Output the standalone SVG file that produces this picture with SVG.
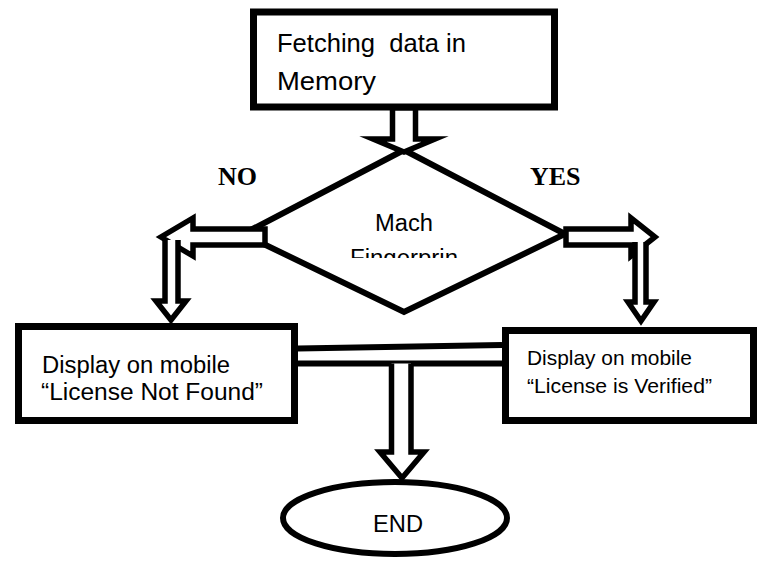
<svg xmlns="http://www.w3.org/2000/svg" width="758" height="561" viewBox="0 0 758 561">
<style>
.box{fill:#fff;stroke:#000;stroke-width:7}
.sh{fill:#fff;stroke:#000;stroke-width:6;stroke-linejoin:miter}
.ar{fill:#fff;stroke:#000;stroke-width:5.5;stroke-linejoin:miter;stroke-miterlimit:10}
.ln{fill:none;stroke:#000;stroke-width:6}
.t{font-family:"Liberation Sans",Arial,sans-serif;fill:#000}
.lab{font-family:"Liberation Serif","Times New Roman",serif;font-weight:bold;font-size:26px;fill:#000}
</style>
<defs>
<clipPath id="clipD"><rect x="300" y="200" width="210" height="58"/></clipPath>
</defs>
<rect width="758" height="561" fill="#fff"/>
<g id="start">
<rect class="box" x="253.5" y="12" width="301" height="95"/>
<text class="t" x="277" y="52" font-size="25.5" textLength="189" lengthAdjust="spacingAndGlyphs">Fetching&#160; data in</text>
<text class="t" x="277" y="90" font-size="25.5" textLength="99" lengthAdjust="spacingAndGlyphs">Memory</text>
</g>
<g id="decision">
<polygon class="sh" points="404,150 565,234 404,312 243,234"/>
<g clip-path="url(#clipD)">
<text class="t" x="375" y="231" font-size="23" textLength="58" lengthAdjust="spacingAndGlyphs">Mach</text>
<text class="t" x="350" y="266" font-size="23" textLength="108" lengthAdjust="spacingAndGlyphs">Fingerprin</text>
</g>
</g>
<g id="labels">
<text class="lab" x="218" y="185">NO</text>
<text class="lab" x="530" y="185">YES</text>
</g>
<g id="notfound">
<rect class="box" x="18.5" y="326.5" width="276" height="94"/>
<text class="t" x="42" y="373" font-size="23" textLength="188" lengthAdjust="spacingAndGlyphs">Display on mobile</text>
<text class="t" x="41" y="400" font-size="23" textLength="222" lengthAdjust="spacingAndGlyphs">“License Not Found”</text>
</g>
<g id="verified">
<rect class="box" x="505.5" y="330.5" width="248" height="90"/>
<text class="t" x="527" y="365" font-size="21" textLength="165" lengthAdjust="spacingAndGlyphs">Display on mobile</text>
<text class="t" x="527" y="393" font-size="21" textLength="185" lengthAdjust="spacingAndGlyphs">“License is Verified”</text>
</g>
<g id="end">
<ellipse cx="395" cy="518" rx="112" ry="36" fill="#fff" stroke="#000" stroke-width="6"/>
<text class="t" x="373" y="532" font-size="23.5" textLength="50" lengthAdjust="spacingAndGlyphs">END</text>
</g>
<g id="connectors">
<polygon class="ar" points="392.5,108 415.5,108 415.5,139 435,139 404,152 373,139 392.5,139"/>
<polygon class="ar" points="265,229 193,229 193,218 161,237 193,256 193,245 265,245"/>
<path class="ar" d="M165,240 V301 H156 L171,320 L186,301 H178 V240"/>
<polygon class="ar" points="566,229 631,229 631,218 655,237 631,256 631,245 566,245"/>
<path class="ar" d="M635,242 V302 H628 L641,321 L654,302 H646 V242"/>
<line class="ln" x1="298" y1="348.5" x2="502" y2="345"/>
<line class="ln" x1="298" y1="363.5" x2="502" y2="363.5"/>
<path class="ar" d="M391.5,363.5 V452 H380 L402,478 L424,452 H411 V363.5"/>
</g>
</svg>
